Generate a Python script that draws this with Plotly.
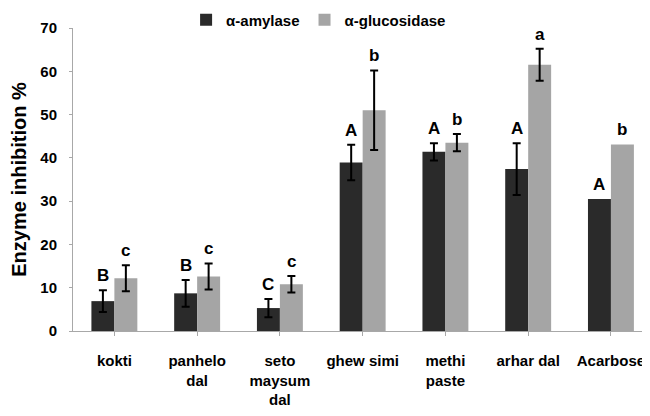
import plotly.graph_objects as go

categories = ["kokti", "panhelo<br>dal", "seto<br>maysum<br>dal", "ghew simi",
              "methi<br>paste", "arhar dal", "Acarbose"]
amylase = [6.9, 8.7, 5.3, 38.9, 41.4, 37.4, 30.5]
glucosidase = [12.2, 12.6, 10.8, 51.0, 43.5, 61.5, 43.1]
# error bars only for the six foods (Acarbose has none)
amylase_err = [2.5, 3.1, 2.1, 4.1, 2.0, 6.0]
glucosidase_err = [3.0, 3.0, 1.9, 9.2, 2.0, 3.7]
amylase_letters = ["B", "B", "C", "A", "A", "A", "A"]
glucosidase_letters = ["c", "c", "c", "b", "b", "a", "b"]

DARK = "#2a2a2a"
LIGHT = "#a5a5a5"
FONT = "Liberation Sans, Arial, sans-serif"

# the page adds an 8 px body margin, so the figure is 8 px smaller
W, H = 642, 408
ML, MR, MT, MB = 64.5, 0, 20, 85
BARGAP = 0.445
X_RANGE = [-0.5, 6.472]
x_idx = list(range(len(categories)))

fig = go.Figure()
fig.add_trace(go.Bar(
    name="α-amylase", x=x_idx, y=amylase, marker_color=DARK, marker_line_width=0,
    error_y=dict(type="data", array=amylase_err, color="black", thickness=2, width=4, visible=True),
))
fig.add_trace(go.Bar(
    name="α-glucosidase", x=x_idx, y=glucosidase, marker_color=LIGHT, marker_line_width=0,
    error_y=dict(type="data", array=glucosidase_err, color="black", thickness=2, width=4, visible=True),
))

# half-bar offset in pixels for the letter annotations
plot_w = W - ML - MR
cat_px = plot_w / (X_RANGE[1] - X_RANGE[0])
half_bar = cat_px * (1 - BARGAP) / 4

for i in x_idx:
    for vals, errs, letters, sgn in ((amylase, amylase_err, amylase_letters, -1),
                                     (glucosidase, glucosidase_err, glucosidase_letters, 1)):
        top = vals[i] + (errs[i] if i < len(errs) else 0)
        fig.add_annotation(x=i, y=top, text=letters[i], showarrow=False,
                           xref="x", yref="y", xshift=sgn * half_bar, yshift=3,
                           yanchor="bottom",
                           font=dict(family=FONT, size=17, color="black", weight="bold"))

fig.update_layout(
    width=W, height=H,
    margin=dict(l=ML, r=MR, t=MT, b=MB, autoexpand=False),
    barmode="group", bargap=BARGAP, bargroupgap=0,
    plot_bgcolor="white", paper_bgcolor="white",
    font=dict(family=FONT, size=16, color="black", weight="bold"),
    showlegend=True,
    legend=dict(orientation="h", x=0.196, y=1.026, xanchor="left", yanchor="middle",
                bgcolor="rgba(0,0,0,0)",
                font=dict(family=FONT, size=15, color="black", weight="bold"),
                itemclick=False, tracegroupgap=0),
)
fig.update_xaxes(
    tickmode="array", tickvals=x_idx, ticktext=categories, tickangle=0,
    range=X_RANGE, showline=True, linecolor="#a8a8a8", linewidth=1,
    ticks="outside", ticklen=4, tickcolor="#a8a8a8", tickson="boundaries",
    tickfont=dict(family=FONT, size=15, color="black", weight="bold"),
    ticklabelstandoff=12, automargin=False,
    showgrid=False, zeroline=False,
)
fig.update_yaxes(
    range=[0, 70], tickvals=[0, 10, 20, 30, 40, 50, 60, 70],
    showline=True, linecolor="#a8a8a8", linewidth=1,
    ticks="outside", ticklen=3, tickcolor="#a8a8a8",
    tickfont=dict(family=FONT, size=15, color="black", weight="bold"),
    ticklabelstandoff=9, automargin=False,
    title=dict(text="Enzyme inhibition %",
               font=dict(family=FONT, size=20, color="black", weight="bold"), standoff=10),
    showgrid=False, zeroline=False,
)

fig.write_html("out.html")
